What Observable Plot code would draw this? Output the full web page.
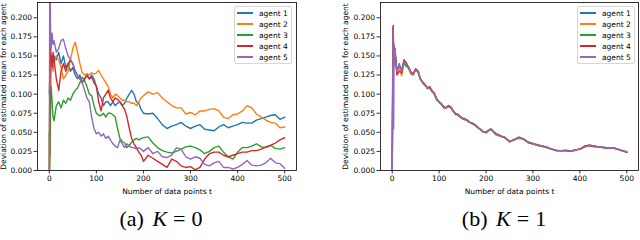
<!DOCTYPE html>
<html><head><meta charset="utf-8">
<script src="https://cdn.jsdelivr.net/npm/d3@7"></script>
<script src="https://cdn.jsdelivr.net/npm/@observablehq/plot@0.6"></script>
<style>
body{margin:0;background:#fff;width:640px;height:240px;overflow:hidden;font-family:"DejaVu Sans",sans-serif;}
#row{display:flex;width:640px;height:200px;}
.panel{position:relative;width:320px;height:200px;}
.legend{position:absolute;top:6px;width:56px;height:56px;border:1px solid #d6d6d6;border-radius:2px;background:rgba(255,255,255,0.8);font-size:7.5px;color:#000;}
.item{position:absolute;left:0;height:10px;display:flex;align-items:center;white-space:nowrap;}
.item .l{display:inline-block;width:16px;height:2px;margin-left:2px;margin-right:6px;}
.caps{position:relative;width:640px;height:40px;font-family:"Liberation Serif","DejaVu Serif",serif;font-size:22px;color:#000;}
.cap{position:absolute;top:6px;transform:translateX(-50%);white-space:nowrap;}
.cap .eq{margin:0 6px;}
.cap i{margin-left:3px;}
</style></head>
<body>
<div id="row"><div class="panel" id="pa"></div><div class="panel" id="pb"></div></div>
<div class="caps">
  <div class="cap" style="left:161px">(a) <i>K</i><span class="eq">=</span>0</div>
  <div class="cap" style="left:504px">(b) <i>K</i><span class="eq">=</span>1</div>
</div>
<script>
const agents = ["agent 1","agent 2","agent 3","agent 4","agent 5"];
const colors = ["#1f77b4","#ff7f0e","#2ca02c","#d62728","#9467bd"];
const xTicks = [0,100,200,300,400,500];
const yTicks = [0,0.025,0.05,0.075,0.1,0.125,0.15,0.175,0.2];
const xLabel = "Number of data points t";
const yLabel = "Deviation of estimated mean for each agent";

const tGrid = [0,1,2,3,4,6,8,
  10,15,20,25,30,35,40,45,50,55,60,65,70,75,80,85,90,95,100,105,110,115,120,125,130,135,140,145,150,155,160,165,170,175,180,185,190,195,200,
  210,220,230,240,250,260,270,280,290,300,310,320,330,340,350,360,370,380,390,400,410,420,430,440,450,460,470,480,490,500];

// (a) K = 0
const k0agent1 = [0.10,0.12,0.15,0.16,0.14,0.15,0.14,
  0.15,0.145,0.155,0.14,0.15,0.135,0.14,0.13,0.135,0.125,
  0.12,0.125,0.115,0.12,0.125,0.12,0.125,0.12,0.11,0.1,
  0.095,0.085,0.09,0.09,0.085,0.09,0.085,0.088,0.09,0.085,
  0.088,0.095,0.1,0.105,0.1,0.09,0.088,0.08,0.075,
  0.074,0.075,0.068,0.06,0.055,0.058,0.06,0.063,0.058,0.055,
  0.058,0.06,0.054,0.053,0.052,0.057,0.06,0.056,0.058,0.06,
  0.063,0.062,0.062,0.066,0.068,0.07,0.072,0.073,0.067,0.07];
const k0agent2 = [0.0,0.03,0.02,0.1,0.13,0.14,0.13,
  0.14,0.15,0.145,0.135,0.12,0.125,0.13,0.145,0.16,0.168,
  0.155,0.14,0.128,0.125,0.127,0.125,0.128,0.126,0.128,0.131,
  0.125,0.12,0.115,0.11,0.1,0.095,0.1,0.098,0.095,0.092,
  0.092,0.09,0.09,0.088,0.088,0.085,0.09,0.095,0.098,
  0.103,0.1,0.102,0.095,0.09,0.085,0.082,0.082,0.074,0.076,
  0.073,0.078,0.078,0.08,0.081,0.078,0.07,0.068,0.073,0.074,
  0.078,0.085,0.082,0.074,0.07,0.066,0.063,0.062,0.056,0.057];
const k0agent3 = [0.05,0.0,0.06,0.1,0.11,0.09,0.07,
  0.065,0.085,0.09,0.082,0.092,0.088,0.095,0.092,0.1,0.105,
  0.108,0.115,0.122,0.118,0.11,0.1,0.098,0.085,0.075,0.072,
  0.072,0.075,0.07,0.075,0.075,0.073,0.07,0.055,0.042,0.038,
  0.036,0.03,0.033,0.037,0.04,0.042,0.04,0.042,0.043,
  0.044,0.036,0.03,0.026,0.024,0.023,0.025,0.028,0.031,0.032,
  0.03,0.027,0.022,0.025,0.03,0.032,0.024,0.018,0.015,0.024,
  0.03,0.03,0.032,0.035,0.031,0.03,0.033,0.029,0.028,0.03];
const k0agent4 = [0.0,0.1,0.165,0.14,0.15,0.135,0.155,
  0.145,0.12,0.105,0.13,0.14,0.13,0.14,0.145,0.14,0.13,
  0.125,0.12,0.115,0.12,0.125,0.12,0.122,0.115,0.11,0.09,
  0.078,0.095,0.1,0.105,0.095,0.09,0.095,0.093,0.09,0.085,
  0.08,0.07,0.055,0.042,0.035,0.03,0.024,0.02,0.012,
  0.02,0.016,0.012,0.008,0.004,0.015,0.012,0.006,0.004,0.005,
  0.001,0.004,0.015,0.022,0.024,0.024,0.02,0.018,0.02,0.022,
  0.024,0.024,0.026,0.026,0.028,0.031,0.033,0.036,0.04,0.043];
const k0agent5 = [0.0,0.25,0.22,0.17,0.16,0.18,0.165,
  0.17,0.155,0.16,0.17,0.172,0.16,0.15,0.145,0.14,0.13,
  0.125,0.12,0.115,0.105,0.095,0.09,0.07,0.055,0.048,0.05,
  0.045,0.048,0.042,0.045,0.04,0.035,0.032,0.03,0.04,0.035,
  0.03,0.035,0.032,0.03,0.03,0.028,0.03,0.028,0.025,
  0.03,0.022,0.025,0.018,0.017,0.02,0.03,0.028,0.018,0.015,
  0.018,0.016,0.008,0.006,0.01,0.012,0.004,0.004,0.002,0.004,
  0.008,0.013,0.007,0.006,0.007,0.01,0.016,0.01,0.009,0.003];

// (b) K = 1
const k1agent1 = [0.0,0.1,0.188,0.15,0.14,0.16,0.14,
  0.13,0.14,0.13,0.143,0.14,0.135,0.128,0.127,0.132,0.13,
  0.12,0.115,0.112,0.108,0.108,0.104,0.1,0.093,0.09,0.087,
  0.083,0.082,0.084,0.083,0.078,0.074,0.073,0.07,0.068,0.067,
  0.066,0.063,0.062,0.06,0.058,0.055,0.053,0.05,0.05,
  0.054,0.048,0.045,0.043,0.038,0.04,0.043,0.041,0.037,0.035,
  0.033,0.032,0.03,0.028,0.026,0.026,0.026,0.025,0.027,0.028,
  0.031,0.033,0.032,0.031,0.03,0.029,0.03,0.028,0.026,0.024];
const k1agent2 = [0.0,0.138,0.185,0.145,0.138,0.155,0.135,
  0.128,0.135,0.124,0.14,0.138,0.133,0.126,0.125,0.133,0.128,
  0.121,0.114,0.111,0.109,0.107,0.105,0.1,0.094,0.089,0.088,
  0.082,0.083,0.083,0.082,0.077,0.075,0.072,0.07,0.069,0.066,
  0.066,0.064,0.061,0.06,0.057,0.055,0.052,0.051,0.049,
  0.055,0.047,0.045,0.044,0.037,0.041,0.042,0.041,0.036,0.035,
  0.034,0.031,0.03,0.028,0.027,0.025,0.026,0.025,0.026,0.028,
  0.031,0.032,0.032,0.031,0.03,0.03,0.029,0.028,0.026,0.025];
const k1agent3 = [0.0,0.09,0.186,0.152,0.142,0.158,0.142,
  0.132,0.138,0.132,0.142,0.136,0.136,0.127,0.128,0.131,0.131,
  0.119,0.115,0.113,0.107,0.109,0.103,0.1,0.092,0.09,0.086,
  0.084,0.082,0.085,0.082,0.078,0.073,0.074,0.07,0.068,0.068,
  0.065,0.063,0.062,0.061,0.058,0.055,0.053,0.05,0.051,
  0.054,0.049,0.046,0.043,0.038,0.04,0.044,0.041,0.037,0.035,
  0.033,0.032,0.031,0.028,0.026,0.026,0.027,0.025,0.027,0.028,
  0.031,0.033,0.032,0.031,0.031,0.029,0.03,0.028,0.026,0.024];
const k1agent4 = [0.0,0.12,0.19,0.148,0.145,0.15,0.145,
  0.125,0.13,0.128,0.145,0.141,0.134,0.129,0.126,0.133,0.129,
  0.12,0.116,0.112,0.108,0.11,0.104,0.101,0.093,0.09,0.087,
  0.082,0.082,0.085,0.083,0.078,0.074,0.073,0.071,0.068,0.067,
  0.066,0.063,0.062,0.06,0.058,0.055,0.053,0.05,0.05,
  0.054,0.048,0.045,0.043,0.038,0.04,0.043,0.041,0.037,0.035,
  0.033,0.032,0.03,0.028,0.026,0.026,0.026,0.025,0.027,0.028,
  0.032,0.033,0.031,0.031,0.03,0.029,0.03,0.028,0.026,0.024];
const k1agent5 = [0.0,0.11,0.185,0.055,0.165,0.155,0.14,
  0.13,0.138,0.13,0.142,0.14,0.135,0.128,0.127,0.131,0.13,
  0.12,0.115,0.112,0.108,0.108,0.104,0.1,0.093,0.09,0.087,
  0.083,0.082,0.084,0.083,0.078,0.074,0.073,0.07,0.068,0.067,
  0.066,0.063,0.062,0.06,0.058,0.055,0.053,0.05,0.05,
  0.054,0.048,0.045,0.043,0.038,0.04,0.043,0.041,0.037,0.035,
  0.033,0.032,0.03,0.028,0.026,0.026,0.026,0.025,0.027,0.028,
  0.031,0.033,0.032,0.031,0.03,0.029,0.03,0.028,0.026,0.024];

function makePanel(series, ml, mr, lo) {
  const rows = [];
  series.forEach((vals, i) => vals.forEach((v, j) => rows.push({t: tGrid[j], v, agent: agents[i]})));
  return Plot.plot({
    width: 320, height: 200,
    marginLeft: ml, marginRight: mr, marginTop: 2, marginBottom: 30,
    style: {fontFamily: "DejaVu Sans", fontSize: "7.5px", background: "white", color: "black"},
    x: {domain: [-25, 525]},
    y: {domain: [0, 0.22]},
    color: {domain: agents, range: colors},
    marks: [
      Plot.line(rows, {x: "t", y: "v", stroke: "agent", z: "agent", strokeWidth: 1.4, clip: true}),
      Plot.frame({stroke: "black", strokeWidth: 0.8}),
      Plot.axisX({ticks: xTicks, tickSize: 3.5, tickPadding: 2, strokeWidth: 0.8, label: xLabel, labelAnchor: "center", labelArrow: "none", labelOffset: 23}),
      Plot.axisY({ticks: yTicks, tickFormat: d3.format(".3f"), tickSize: 3.5, tickPadding: 2, strokeWidth: 0.8, label: yLabel, labelAnchor: "center", labelArrow: "none", labelOffset: lo})
    ]
  });
}

function makeLegend(left) {
  const box = document.createElement("div");
  box.className = "legend";
  box.style.left = left + "px";
  agents.forEach((a, i) => {
    const it = document.createElement("div");
    it.className = "item";
    it.style.top = Math.round(0.5 + i * 11.2) + "px";
    const l = document.createElement("span");
    l.className = "l";
    l.style.background = colors[i];
    it.appendChild(l);
    it.appendChild(document.createTextNode(a));
    box.appendChild(it);
  });
  return box;
}

const pa = document.getElementById("pa");
pa.appendChild(makePanel([k0agent1,k0agent2,k0agent3,k0agent4,k0agent5], 37, 24, 37));
pa.appendChild(makeLegend(234));
const pb = document.getElementById("pb");
pb.appendChild(makePanel([k1agent1,k1agent2,k1agent3,k1agent4,k1agent5], 60, 2, 38));
pb.appendChild(makeLegend(257));
</script>
</body></html>
